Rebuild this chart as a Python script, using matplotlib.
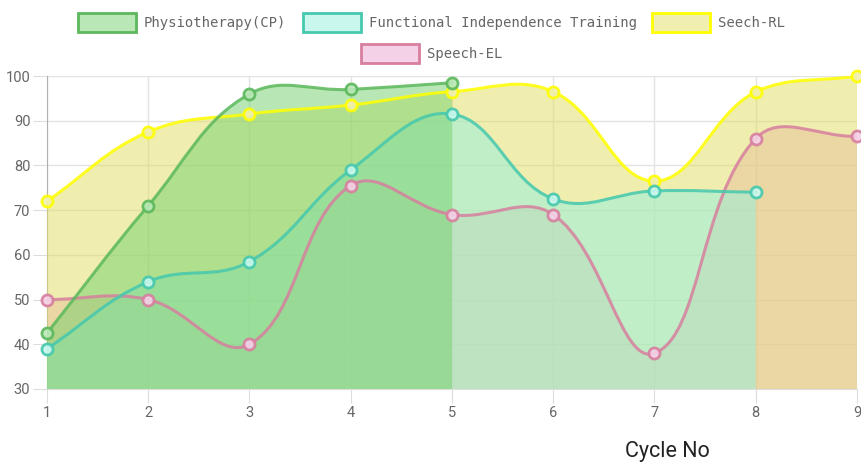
import numpy as np
import matplotlib
matplotlib.use("Agg")
import matplotlib.pyplot as plt
from matplotlib.path import Path
from matplotlib.patches import PathPatch, Rectangle

# ---- data ----
cycles = [1, 2, 3, 4, 5, 6, 7, 8, 9]
physio = [42.5, 71, 96, 97, 98.5]
functional = [39, 54, 58.5, 79, 91.5, 72.5, 74.3, 74]
seech_rl = [72, 87.5, 91.5, 93.5, 96.5, 96.5, 76.5, 96.5, 100]
speech_el = [50, 50, 40, 75.5, 69, 69, 38, 86, 86.5]

labels = ["Physiotherapy(CP)", "Functional Independence Training", "Seech-RL", "Speech-EL"]
line_colors = ["#5cb85c", "#45c8ae", "#ffff00", "#d77f9f"]
swatch_colors = ["#b9e8b6", "#c9f7ee", "#f0efb0", "#f5d1e8"]
fill_colors = ["#73d16d", "#93efdd", "#e1df61", "#eba3d1"]

W, H = 862, 470
fig = plt.figure(figsize=(W / 100, H / 100), dpi=100)
ax = fig.add_axes([47 / W, (H - 389) / H, 810 / W, 313 / H])
xmin, xmax, ymin, ymax = 1, 9, 30, 100
ax.set_xlim(xmin, xmax)
ax.set_ylim(ymin, ymax)

# pixel scale for chart.js-like spline computation
sx = 810 / (xmax - xmin)
sy = 313 / (ymax - ymin)


def spline_path(xs, ys, t=0.4):
    P = np.column_stack([np.array(xs, float) * sx, np.array(ys, float) * sy])
    n = len(P)
    prev_cp, next_cp = [], []
    for i in range(n):
        p0 = P[i - 1] if i > 0 else P[i]
        p1 = P[i]
        p2 = P[i + 1] if i < n - 1 else P[i]
        d01 = np.hypot(*(p1 - p0))
        d12 = np.hypot(*(p2 - p1))
        tot = d01 + d12
        s01 = d01 / tot if tot else 0
        s12 = d12 / tot if tot else 0
        fa, fb = t * s01, t * s12
        prev_cp.append(p1 - fa * (p2 - p0))
        next_cp.append(p1 + fb * (p2 - p0))

    def todata(p):
        x = min(max(p[0] / sx, xmin), xmax)
        y = min(max(p[1] / sy, ymin), ymax)
        return (x, y)

    verts = [todata(P[0])]
    codes = [Path.MOVETO]
    for i in range(n - 1):
        verts += [todata(next_cp[i]), todata(prev_cp[i + 1]), todata(P[i + 1])]
        codes += [Path.CURVE4] * 3
    return verts, codes


series = [physio, functional, seech_rl, speech_el]
for k, vals in enumerate(series):
    xs = cycles[:len(vals)]
    verts, codes = spline_path(xs, vals)
    zf = 5 - k          # fills: first dataset on top
    zl = 20 - k * 2     # lines above all fills
    fverts = verts + [(xs[-1], ymin), (xs[0], ymin), verts[0]]
    fcodes = codes + [Path.LINETO, Path.LINETO, Path.CLOSEPOLY]
    ax.add_patch(PathPatch(Path(fverts, fcodes), facecolor=fill_colors[k], alpha=0.5,
                           edgecolor="none", zorder=zf))
    ax.add_patch(PathPatch(Path(verts, codes), facecolor="none", edgecolor=line_colors[k],
                           lw=2.2, alpha=0.85, zorder=zl, capstyle="round", joinstyle="round"))
    ax.plot(xs, vals, "o", ms=8, mfc=swatch_colors[k], mec=line_colors[k], mew=2,
            alpha=0.9, zorder=zl + 0.5, clip_on=False)

# grid & axes styling
ax.set_xticks(cycles)
ax.set_yticks(np.arange(30, 101, 10))
ax.grid(True, color="#e3e3e3", lw=1)
ax.set_axisbelow(True)
for s in ["top", "right"]:
    ax.spines[s].set_visible(False)
ax.spines["left"].set_color("#b0b0b0")
ax.spines["bottom"].set_color("#dddddd")
ax.tick_params(axis="both", length=10, color="#dddddd", labelcolor="#666666",
               labelsize=10.5, pad=2)
for lab in ax.get_xticklabels() + ax.get_yticklabels():
    lab.set_fontfamily("Roboto")

fig.text(667 / W, 1 - 451 / H, "Cycle No", fontsize=15.5, color="#222222",
         family="Roboto", ha="center", va="center")

# legend (manual, centered rows like Chart.js)
legend_items = [
    (78, 13, 0), (303, 13, 1), (652, 13, 2), (361, 44, 3),
]
for (x0, y0, k) in legend_items:
    fig.patches.append(Rectangle((x0 / W, 1 - (y0 + 19) / H), 58 / W, 19 / H,
                                 transform=fig.transFigure, facecolor=swatch_colors[k],
                                 edgecolor=line_colors[k], lw=2))
    fig.text((x0 + 66) / W, 1 - (y0 + 10) / H, labels[k], fontsize=10,
             family="DejaVu Sans Mono", color="#666666", ha="left", va="center")

fig.savefig("out.png", dpi=100)
